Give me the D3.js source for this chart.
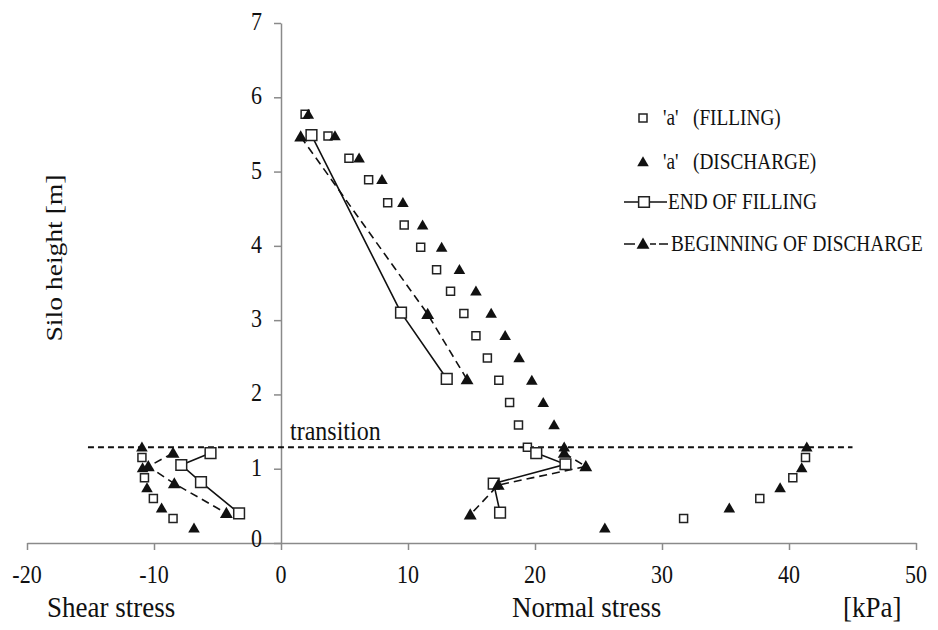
<!DOCTYPE html>
<html>
<head>
<meta charset="utf-8">
<script src="https://d3js.org/d3.v7.min.js"></script>
<style>
  body { margin: 0; background: #fff; }
  svg text { font-family: "Liberation Serif", "Times New Roman", Times, "DejaVu Serif", serif; fill: #111; white-space: pre; }
</style>
</head>
<body>
<svg id="chart" width="938" height="630"></svg>
<script>
// measurement heights above the transition (same for filling and discharge)
const upperHeights = [5.77, 5.48, 5.18, 4.89, 4.58, 4.28, 3.98, 3.68, 3.39, 3.09, 2.79, 2.49, 2.19, 1.89, 1.59, 1.29];
const fillNormalUpper = [1.9, 3.7, 5.35, 6.9, 8.4, 9.7, 11.0, 12.25, 13.35, 14.4, 15.35, 16.25, 17.15, 18.0, 18.7, 19.4];
const dischNormalUpper = [2.15, 4.25, 6.15, 7.95, 9.6, 11.15, 12.65, 14.05, 15.35, 16.55, 17.65, 18.75, 19.75, 20.65, 21.5, 22.3];

// below the transition
const fillHeightsLower = [1.15, 0.88, 0.60, 0.33];
const fillNormalLower = [41.3, 40.3, 37.7, 31.7];
const fillShearLower = [-10.95, -10.75, -10.05, -8.5];
const dischHeightsLower = [1.29, 1.01, 0.74, 0.47, 0.20];
const dischNormalLower = [41.4, 41.0, 39.3, 35.3, 25.5];
const dischShearLower = [-10.95, -10.9, -10.55, -9.4, -6.85];

// END OF FILLING (solid) and BEGINNING OF DISCHARGE (dashed), [stress, height]
const endFilling = [
  [[2.4, 5.49], [9.45, 3.10], [13.05, 2.21]],
  [[20.1, 1.21], [22.4, 1.06], [16.75, 0.80], [17.25, 0.41]],
  [[-5.55, 1.21], [-7.85, 1.05], [-6.3, 0.82], [-3.3, 0.40]]
];
const beginDischarge = [
  [[1.55, 5.47], [11.55, 3.08], [14.65, 2.20]],
  [[22.3, 1.21], [24.0, 1.03], [17.1, 0.78], [14.9, 0.38]],
  [[-8.5, 1.21], [-10.45, 1.03], [-8.4, 0.80], [-4.3, 0.40]]
];

const transitionY = 1.29;
const transitionX = [-15.2, 45];

const xTicks = [-20, -10, 0, 10, 20, 30, 40, 50];
const yTicks = [0, 1, 2, 3, 4, 5, 6, 7];
const legendLabels = ["'a'   (FILLING)", "'a'   (DISCHARGE)", "END OF FILLING", "BEGINNING OF DISCHARGE"];

const svg = d3.select("#chart");
const x = d3.scaleLinear().domain([-20, 50]).range([27, 916]);
const y = d3.scaleLinear().domain([0, 7]).range([543, 23]);
const axisColor = "#8a8a8a";
const stretch = 1.2;  // the original figure is a bit taller than wide

function label(px, py, str, size, anchor = "start", sy = stretch) {
  return svg.append("text")
    .attr("transform", `translate(${px},${py}) scale(1,${sy})`)
    .attr("text-anchor", anchor)
    .attr("font-size", size)
    .text(str);
}

// axes
const xAxis = svg.append("g").attr("transform", `translate(0,${y(0)})`)
  .call(d3.axisBottom(x).tickValues(xTicks).tickSize(7).tickSizeOuter(0).tickFormat(""));
const yAxis = svg.append("g").attr("transform", `translate(${x(0)},0)`)
  .call(d3.axisLeft(y).tickValues(yTicks).tickSize(7).tickSizeOuter(0).tickFormat(""));
[xAxis, yAxis].forEach(a => {
  a.select(".domain").attr("stroke", axisColor).attr("stroke-width", 1.5);
  a.selectAll(".tick line").attr("stroke", axisColor).attr("stroke-width", 1.5);
});

xTicks.forEach(t => label(x(t), 583, String(t), 22, "middle", 1.15));
yTicks.forEach(t => label(x(0) - 19, y(t) + 7 - (t === 0 ? 3 : 0), String(t), 22, "end", 1.1));

label(47, 617, "Shear stress", 27, "start", 1.1);
label(512, 617, "Normal stress", 27, "start", 1.1);
label(843, 617, "[kPa]", 27, "start", 1.1);

svg.append("text")
  .attr("transform", `translate(62,258) scale(1,${stretch}) rotate(-90)`)
  .attr("text-anchor", "middle")
  .attr("font-size", 23)
  .text("Silo height [m]");

// transition line
svg.append("line")
  .attr("x1", x(transitionX[0])).attr("x2", x(transitionX[1]))
  .attr("y1", y(transitionY)).attr("y2", y(transitionY))
  .attr("stroke", "#111").attr("stroke-width", 2).attr("stroke-dasharray", "6,4");
label(290, 440, "transition", 24, "start", 1.1);

// markers
const sq = (s) => d3.symbol().type(d3.symbolSquare).size(s)();
const tri = (s) => d3.symbol().type(d3.symbolTriangle).size(s)();

function drawSquares(pts, size, sw) {
  svg.append("g").selectAll("path").data(pts).join("path")
    .attr("d", sq(size))
    .attr("transform", d => `translate(${x(d[0])},${y(d[1])})`)
    .attr("fill", "#fff").attr("stroke", "#222").attr("stroke-width", sw);
}
function drawTriangles(pts, size) {
  svg.append("g").selectAll("path").data(pts).join("path")
    .attr("d", tri(size))
    .attr("transform", d => `translate(${x(d[0])},${y(d[1]) + 1})`)
    .attr("fill", "#111");
}

const line = d3.line().x(d => x(d[0])).y(d => y(d[1]));
endFilling.forEach(seg => svg.append("path").attr("d", line(seg))
  .attr("fill", "none").attr("stroke", "#111").attr("stroke-width", 1.6));
beginDischarge.forEach(seg => svg.append("path").attr("d", line(seg))
  .attr("fill", "none").attr("stroke", "#111").attr("stroke-width", 1.6).attr("stroke-dasharray", "8,5"));

const fillPts = upperHeights.map((h, i) => [fillNormalUpper[i], h])
  .concat(fillHeightsLower.map((h, i) => [fillNormalLower[i], h]))
  .concat(fillHeightsLower.map((h, i) => [fillShearLower[i], h]));
const dischPts = upperHeights.map((h, i) => [dischNormalUpper[i], h])
  .concat(dischHeightsLower.map((h, i) => [dischNormalLower[i], h]))
  .concat(dischHeightsLower.map((h, i) => [dischShearLower[i], h]));

drawSquares(fillPts, 64, 1.5);
drawTriangles(dischPts, 58);
drawSquares(endFilling.flat(), 115, 1.5);
drawTriangles(beginDischarge.flat(), 72);

// legend
const legend = svg.append("g");
const rows = [118, 162, 202, 244];
legend.append("path").attr("d", sq(64)).attr("transform", `translate(643,${rows[0]})`)
  .attr("fill", "#fff").attr("stroke", "#222").attr("stroke-width", 1.5);
legend.append("path").attr("d", tri(58)).attr("transform", `translate(643,${rows[1] + 1})`).attr("fill", "#111");
legend.append("line").attr("x1", 624).attr("x2", 667).attr("y1", rows[2]).attr("y2", rows[2])
  .attr("stroke", "#111").attr("stroke-width", 1.6);
legend.append("path").attr("d", sq(115)).attr("transform", `translate(644,${rows[2]})`)
  .attr("fill", "#fff").attr("stroke", "#222").attr("stroke-width", 1.5);
legend.append("line").attr("x1", 624).attr("x2", 668).attr("y1", rows[3]).attr("y2", rows[3])
  .attr("stroke", "#111").attr("stroke-width", 1.6).attr("stroke-dasharray", "11,15,6,3,9");
legend.append("path").attr("d", tri(72)).attr("transform", `translate(643,${rows[3] + 1})`).attr("fill", "#111");

const legendX = [663, 663, 668, 671];
legendLabels.forEach((t, i) => label(legendX[i], rows[i] + 7, t, 19.3));
</script>
</body>
</html>
